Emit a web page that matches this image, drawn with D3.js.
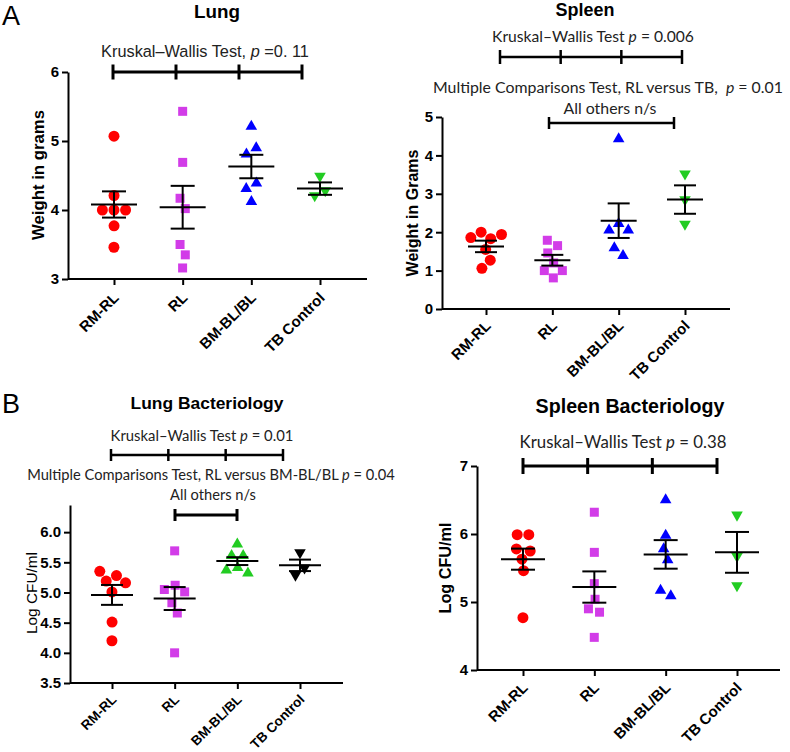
<!DOCTYPE html>
<html>
<head>
<meta charset="utf-8">
<script src="https://cdn.jsdelivr.net/npm/d3@7"></script>
<style>
  body { margin: 0; background: #fff; }
  svg { display: block; }
  text { white-space: pre; }
</style>
</head>
<body>
<div id="chart"></div>
<script>
// groups shared by all four panels
var groups = ["RM-RL", "RL", "BM-BL/BL", "TB Control"];

// A - lung weight (grams)
var lungWeight = [
    [5.07, 4.21, 4.00, 4.00, 4.00, 3.77, 3.46],
    [5.43, 4.69, 4.17, 4.02, 3.50, 3.35, 3.16],
    [5.21, 4.90, 4.81, 4.39, 4.31, 4.12],
    [4.49, 4.28, 4.21]
];
var lungMean = [4.08, 4.04, 4.63, 4.31];
var lungSem = [0.19, 0.31, 0.17, 0.09];
var lungTicks = [3, 4, 5, 6];

// A - spleen weight (grams)
var spleenWeight = [
    [2.00, 1.94, 1.86, 1.83, 1.55, 1.27, 1.06],
    [1.79, 1.65, 1.46, 1.20, 1.00, 1.00, 0.81],
    [4.43, 2.22, 2.05, 2.05, 1.59, 1.39],
    [3.52, 2.85, 2.21]
];
var spleenMean = [1.63, 1.27, 2.30, 2.85];
var spleenSem = [0.15, 0.14, 0.45, 0.37];
var spleenTicks = [0, 1, 2, 3, 4, 5];

// B - lung bacteriology (log CFU/ml)
var lungCfu = [
    [5.35, 5.28, 5.19, 5.16, 5.01, 4.51, 4.20],
    [5.69, 5.12, 5.05, 5.01, 4.83, 4.66, 4.00],
    [5.80, 5.61, 5.61, 5.41, 5.37, 5.32],
    [5.66, 5.41, 5.29]
];
var lungCfuMean = [4.96, 4.90, 5.52, 5.45];
var lungCfuSem = [0.165, 0.19, 0.065, 0.095];
var lungCfuTicks = [3.5, 4.0, 4.5, 5.0, 5.5, 6.0];

// B - spleen bacteriology (log CFU/ml)
var spleenCfu = [
    [5.99, 5.99, 5.78, 5.75, 5.63, 5.46, 4.77],
    [6.32, 5.73, 5.27, 5.04, 4.90, 4.85, 4.48],
    [6.50, 5.98, 5.78, 5.62, 5.17, 5.09],
    [6.28, 5.67, 5.24]
];
var spleenCfuMean = [5.63, 5.22, 5.70, 5.73];
var spleenCfuSem = [0.155, 0.23, 0.21, 0.30];
var spleenCfuTicks = [4, 5, 6, 7];

var RED = "#ff0000", MAG = "#d23ce8", BLUE = "#0000ff", GREEN = "#22cc22", BLACK = "#000000";
var ARIAL = "'Liberation Sans', Arial, sans-serif";
var CALIBRI = "Lato, 'Open Sans', sans-serif";

var panels = [
    {
        values: lungWeight, mean: lungMean, sem: lungSem, ticks: lungTicks, fmt: d3.format("d"),
        domain: [3, 6], yRange: [279, 72], axisX: 68, xRange: [114, 320], axisEnd: 367,
        colors: [RED, MAG, BLUE, GREEN], meanHalf: 23, capHalf: 12, labSize: 15, labDy: 16,
        title: {text: "Lung", x: 217, y: 18, w: 46},
        ylabel: {text: "Weight in grams", x: 38, y: 175, w: 130, bold: true},
        notes: [{parts: ["Kruskal\u2013Wallis Test, ", "p", " =0. 11"], x: 205, y: 57, w: 208, font: ARIAL}],
        brackets: [{y: 72, x0: 113, x1: 302, n: 4, h: 7.5, sw: 3}]
    },
    {
        values: spleenWeight, mean: spleenMean, sem: spleenSem, ticks: spleenTicks, fmt: d3.format("d"),
        domain: [0, 5], yRange: [309, 117], axisX: 442, xRange: [486, 685], axisEnd: 730,
        colors: [RED, MAG, BLUE, GREEN], meanHalf: 18, capHalf: 11, labSize: 15, labDy: 14,
        title: {text: "Spleen", x: 585, y: 16, w: 59},
        ylabel: {text: "Weight in Grams", x: 412, y: 213, w: 127, bold: true},
        notes: [
            {parts: ["Kruskal\u2013Wallis Test ", "p", " = 0.006"], x: 593, y: 42, w: 202, font: CALIBRI},
            {parts: ["Multiple Comparisons Test, RL versus TB,  ", "p", " = 0.01"], x: 608, y: 93, w: 350, font: CALIBRI},
            {parts: ["All others n/s"], x: 610, y: 114, w: 93, font: CALIBRI}
        ],
        brackets: [
            {y: 57, x0: 500, x1: 682, n: 4, h: 7, sw: 2.5},
            {y: 123, x0: 549, x1: 674, n: 2, h: 6, sw: 2.5}
        ]
    },
    {
        values: lungCfu, mean: lungCfuMean, sem: lungCfuSem, ticks: lungCfuTicks, fmt: d3.format(".1f"),
        domain: [3.5, 6.45], yRange: [683, 505], axisX: 70, xRange: [112, 300], axisEnd: 343,
        colors: [RED, MAG, GREEN, BLACK], meanHalf: 21, capHalf: 11, labSize: 13.5, labDy: 14,
        title: {text: "Lung Bacteriology", x: 207, y: 409, w: 153},
        ylabel: {text: "Log CFU/ml", x: 32, y: 593, w: 82, bold: false},
        notes: [
            {parts: ["Kruskal\u2013Wallis Test ", "p", " = 0.01"], x: 202, y: 441, w: 183, font: CALIBRI},
            {parts: ["Multiple Comparisons Test, RL versus BM-BL/BL ", "p", " = 0.04"], x: 211, y: 480, w: 368, font: CALIBRI},
            {parts: ["All others n/s"], x: 213, y: 500, w: 86, font: CALIBRI}
        ],
        brackets: [
            {y: 455, x0: 111, x1: 283, n: 4, h: 6, sw: 2.5},
            {y: 515, x0: 175, x1: 237, n: 2, h: 6, sw: 3}
        ]
    },
    {
        values: spleenCfu, mean: spleenCfuMean, sem: spleenCfuSem, ticks: spleenCfuTicks, fmt: d3.format("d"),
        domain: [4, 7], yRange: [670, 466], axisX: 477, xRange: [523, 737], axisEnd: 780,
        colors: [RED, MAG, BLUE, GREEN], meanHalf: 22, capHalf: 12, labSize: 15, labDy: 15,
        title: {text: "Spleen Bacteriology", x: 630, y: 413, w: 189},
        ylabel: {text: "Log CFU/ml", x: 445, y: 568, w: 91, bold: true},
        notes: [{parts: ["Kruskal\u2013Wallis Test ", "p", " = 0.38"], x: 623, y: 448, w: 207, font: CALIBRI}],
        brackets: [{y: 466, x0: 523, x1: 717, n: 4, h: 8, sw: 3}]
    }
];

// marker shape per group: circle, square, up triangle, down triangle
var shapes = [
    {type: d3.symbolCircle, size: 95, rot: 0},
    {type: d3.symbolSquare, size: 81, rot: 0},
    {type: d3.symbolTriangle, size: 58, rot: 0},
    {type: d3.symbolTriangle, size: 58, rot: 180}
];

var svg = d3.select("#chart").append("svg")
    .attr("width", 790)
    .attr("height", 752);

var fitText = function (sel, width) {
    var w = sel.node().getComputedTextLength();
    var fs = parseFloat(sel.attr("font-size"));
    sel.attr("font-size", fs * width / w);
};

svg.append("text").attr("x", 2).attr("y", 25)
    .attr("font-family", ARIAL).attr("font-size", 27).text("A");
svg.append("text").attr("x", 2).attr("y", 413)
    .attr("font-family", ARIAL).attr("font-size", 27).text("B");

panels.forEach(function (p) {
    var g = svg.append("g");
    var y = d3.scaleLinear().domain(p.domain).range(p.yRange);
    var x = d3.scalePoint().domain(groups).range(p.xRange);
    var baseY = y(p.domain[0]);

    // y axis
    var ya = g.append("g")
        .attr("transform", "translate(" + p.axisX + ",0)")
        .call(d3.axisLeft(y).tickValues(p.ticks).tickFormat(p.fmt).tickSize(6).tickSizeOuter(0).tickPadding(3));
    ya.select(".domain").attr("stroke-width", 2);
    ya.selectAll(".tick line").attr("stroke-width", 2);
    ya.selectAll(".tick text")
        .attr("font-family", ARIAL).attr("font-size", 15).attr("font-weight", "bold").attr("fill", "#000");

    // x axis
    var xa = g.append("g")
        .attr("transform", "translate(0," + baseY + ")")
        .call(d3.axisBottom(x).tickSize(6).tickSizeOuter(0).tickFormat(""));
    xa.select(".domain").remove();
    xa.selectAll(".tick line").attr("stroke-width", 2);
    g.append("line")
        .attr("x1", p.axisX).attr("x2", p.axisEnd)
        .attr("y1", baseY).attr("y2", baseY)
        .attr("stroke", "#000").attr("stroke-width", 2);

    g.selectAll(".xlab")
        .data(groups)
        .enter()
        .append("text")
        .attr("class", "xlab")
        .attr("transform", function (d) {
            return "translate(" + (x(d) + 2) + "," + (baseY + p.labDy) + ") rotate(-45)";
        })
        .attr("text-anchor", "end")
        .attr("dy", "0.35em")
        .attr("font-family", ARIAL).attr("font-size", p.labSize).attr("font-weight", "bold")
        .text(function (d) { return d; });

    // title
    var t = g.append("text")
        .attr("x", p.title.x).attr("y", p.title.y)
        .attr("text-anchor", "middle")
        .attr("font-family", ARIAL).attr("font-size", 19).attr("font-weight", "bold")
        .text(p.title.text);
    fitText(t, p.title.w);

    // y label
    var yl = g.append("text")
        .attr("transform", "translate(" + p.ylabel.x + "," + p.ylabel.y + ") rotate(-90)")
        .attr("text-anchor", "middle")
        .attr("dy", "0.35em")
        .attr("font-family", ARIAL).attr("font-size", 16)
        .attr("font-weight", p.ylabel.bold ? "bold" : "normal")
        .text(p.ylabel.text);
    fitText(yl, p.ylabel.w);

    // test annotations
    p.notes.forEach(function (n) {
        var tx = g.append("text")
            .attr("x", n.x).attr("y", n.y)
            .attr("text-anchor", "middle")
            .attr("font-family", n.font).attr("font-size", 16).attr("fill", "#222");
        n.parts.forEach(function (s, i) {
            tx.append("tspan")
                .attr("font-style", i == 1 ? "italic" : "normal")
                .text(s);
        });
        fitText(tx, n.w);
    });

    // brackets
    p.brackets.forEach(function (b) {
        g.append("line")
            .attr("x1", b.x0).attr("x2", b.x1).attr("y1", b.y).attr("y2", b.y)
            .attr("stroke", "#000").attr("stroke-width", b.sw);
        var tickX = d3.range(b.n).map(function (i) {
            return b.x0 + (b.x1 - b.x0) * i / (b.n - 1);
        });
        g.selectAll(null)
            .data(tickX)
            .enter()
            .append("line")
            .attr("x1", function (d) { return d; })
            .attr("x2", function (d) { return d; })
            .attr("y1", b.y - b.h).attr("y2", b.y + b.h)
            .attr("stroke", "#000").attr("stroke-width", b.sw);
    });

    // points, spread sideways only where they would overlap
    p.values.forEach(function (vals, gi) {
        var cx = x(groups[gi]);
        var nodes = vals.map(function (v, i) {
            return {v: v, x: cx + (i % 2 ? 0.5 : -0.5) * (i + 1) * 0.3, y: y(v), fy: y(v)};
        });
        var sim = d3.forceSimulation(nodes)
            .force("x", d3.forceX(cx).strength(0.04))
            .force("collide", d3.forceCollide(5.8).iterations(3))
            .stop();
        sim.tick(300);

        var sh = shapes[gi];
        g.selectAll(null)
            .data(nodes)
            .enter()
            .append("path")
            .attr("d", d3.symbol().type(sh.type).size(sh.size))
            .attr("transform", function (d) {
                return "translate(" + d.x + "," + d.y + ") rotate(" + sh.rot + ")";
            })
            .attr("fill", p.colors[gi]);
    });

    // mean and SEM bars
    groups.forEach(function (grp, gi) {
        var cx = x(grp);
        var m = p.mean[gi], s = p.sem[gi];
        var bar = g.append("g").attr("stroke", "#000").attr("stroke-width", 2);
        bar.append("line").attr("x1", cx).attr("x2", cx).attr("y1", y(m + s)).attr("y2", y(m - s));
        bar.append("line").attr("x1", cx - p.capHalf).attr("x2", cx + p.capHalf).attr("y1", y(m + s)).attr("y2", y(m + s));
        bar.append("line").attr("x1", cx - p.capHalf).attr("x2", cx + p.capHalf).attr("y1", y(m - s)).attr("y2", y(m - s));
        bar.append("line").attr("x1", cx - p.meanHalf).attr("x2", cx + p.meanHalf).attr("y1", y(m)).attr("y2", y(m));
    });
});
</script>
</body>
</html>
